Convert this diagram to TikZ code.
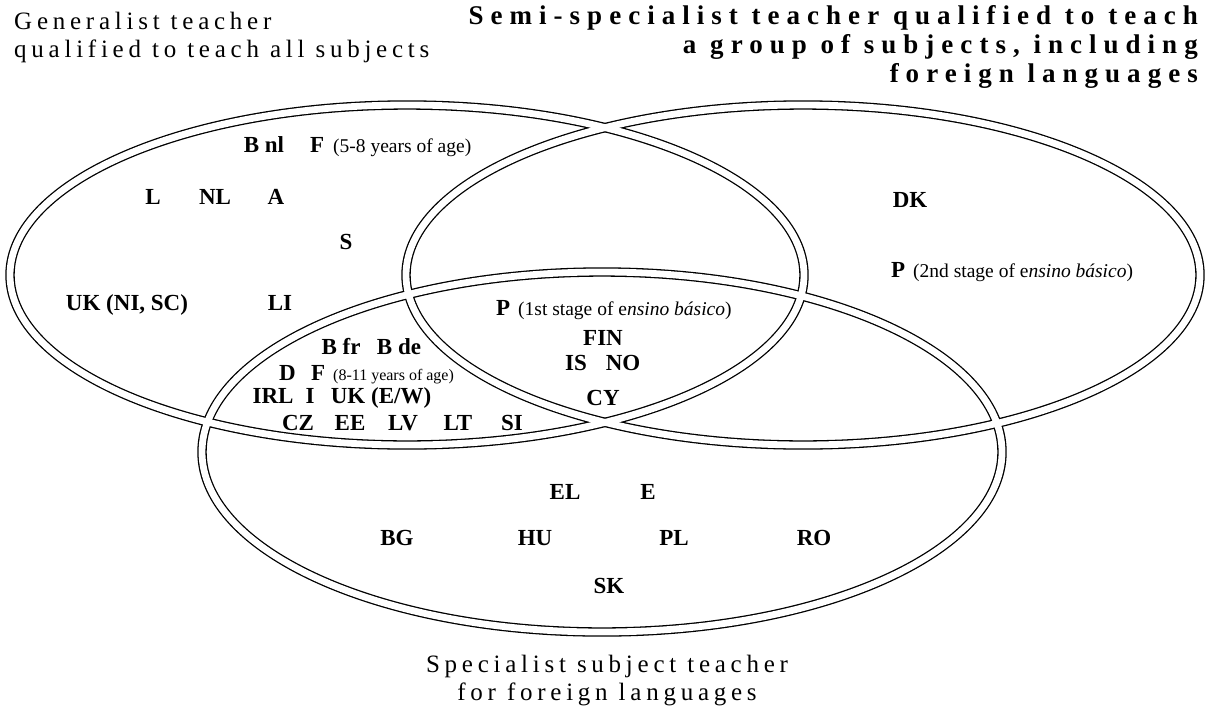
\documentclass[tikz,border=0pt]{standalone}
\usepackage{fontspec}
\setmainfont{Liberation Serif}
\newfontfamily\ttlfont[LetterSpace=19]{Liberation Serif}
\newfontfamily\ttlbfont[LetterSpace=26]{Liberation Serif}
\begin{document}
\begin{tikzpicture}[x=1pt,y=-1pt]
\tikzset{
  ring/.style={line width=9.4pt, draw=black},
  gap/.style={line width=6.8pt, draw=white},
  cc/.style={font=\fontsize{23}{26}\selectfont\bfseries, inner sep=0pt, anchor=base},
  cw/.style={cc, anchor=base west},
  note/.style={font=\fontsize{19.5}{22}\selectfont, inner sep=0pt, anchor=base west},
  smallnote/.style={font=\fontsize{16}{18}\selectfont, inner sep=0pt, anchor=base west},
  ttl/.style={font=\ttlfont\fontsize{25}{28}\selectfont, inner sep=0pt},
  ttlb/.style={font=\ttlbfont\fontsize{27}{30}\selectfont\bfseries, inner sep=0pt, anchor=base east},
}
\fill[white] (0,0) rectangle (1206,709);
\useasboundingbox (0,0) rectangle (1206,709);
% rings
\path[ring] (407,275) ellipse [x radius=397pt, y radius=170pt];
\path[ring] (803,275) ellipse [x radius=397pt, y radius=170pt];
\path[ring] (602,452) ellipse [x radius=400pt, y radius=180pt];
\path[gap] (407,275) ellipse [x radius=397pt, y radius=170pt];
\path[gap] (803,275) ellipse [x radius=397pt, y radius=170pt];
\path[gap] (602,452) ellipse [x radius=400pt, y radius=180pt];
% titles
\node[ttl, anchor=base west] (t1a) at (14,30) {Generalist teacher};
\node[ttl, anchor=base west] (t1b) at (14,58) {qualified to teach all subjects};
\node[ttlb] (t2a) at (1198,25) {Semi-specialist teacher qualified to teach};
\node[ttlb] (t2b) at (1198,54) {a group of subjects, including};
\node[ttlb] (t2c) at (1198,82) {foreign languages};
\node[ttl, anchor=base] (t3a) at (607,672) {Specialist subject teacher};
\node[ttl, anchor=base] (t3b) at (607,700) {for foreign languages};
% generalist only
\node[cc] (bnl) at (264,152) {B nl};
\node[cw] (f58) at (310,152) {F};
\node[note] (f58n) at (333,152) {(5-8 years of age)};
\node[cc] (l) at (153,204) {L};
\node[cc] (nl) at (215,204) {NL};
\node[cc] (a) at (276,204) {A};
\node[cc] (s) at (346,249) {S};
\node[cc] (uk1) at (127,310) {UK (NI, SC)};
\node[cc] (li) at (280,310) {LI};
% generalist + specialist
\node[cc] (bfr) at (341,354) {B fr};
\node[cc] (bde) at (399,354) {B de};
\node[cw] (d) at (279,380) {D};
\node[cw] (f811) at (311,380) {F};
\node[smallnote] (f811n) at (333,380) {(8-11 years of age)};
\node[cc] (irl) at (273,403) {IRL};
\node[cc] (i) at (310,403) {I};
\node[cc] (ukew) at (381,403) {UK (E/W)};
\node[cc] (cz) at (298,430) {CZ};
\node[cc] (ee) at (350,430) {EE};
\node[cc] (lv) at (403,430) {LV};
\node[cc] (lt) at (458,430) {LT};
\node[cc] (si) at (512,430) {SI};
% centre
\node[cw] (p1) at (496,315) {P};
\node[note] (p1n) at (518,315) {(1st stage of e\textit{nsino básico})};
\node[cc] (fin) at (603,345) {FIN};
\node[cc] (is) at (576,370) {IS};
\node[cc] (no) at (623,370) {NO};
\node[cc] (cy) at (603,405) {CY};
% semi-specialist
\node[cc] (dk) at (910,207) {DK};
\node[cw] (p2) at (891,277) {P};
\node[note] (p2n) at (913,277) {(2nd stage of e\textit{nsino básico})};
% specialist
\node[cc] (el) at (565,499) {EL};
\node[cc] (e) at (648,499) {E};
\node[cc] (bg) at (397,545) {BG};
\node[cc] (hu) at (535,545) {HU};
\node[cc] (pl) at (674,545) {PL};
\node[cc] (ro) at (814,545) {RO};
\node[cc] (sk) at (609,593) {SK};
\end{tikzpicture}
\end{document}
